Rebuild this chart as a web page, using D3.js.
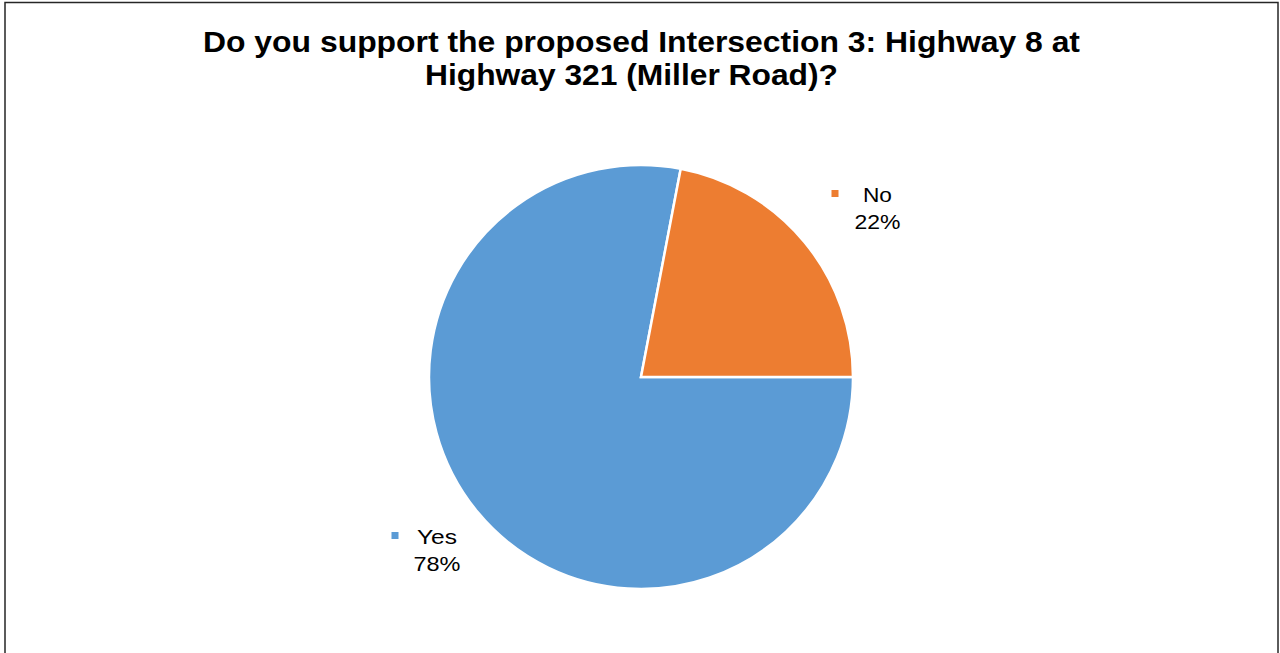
<!DOCTYPE html>
<html>
<head>
<meta charset="utf-8">
<script src="https://cdn.jsdelivr.net/npm/d3@7"></script>
<style>
  html, body { margin: 0; padding: 0; background: #fff; }
  svg { display: block; }
</style>
</head>
<body>
<svg id="chart" width="1280" height="653"></svg>
<script>
// Survey responses
const categories = ["Yes", "No"];
const percents = [78, 22];
const colors = ["#5B9BD5", "#ED7D31"];
const titleLines = [
  "Do you support the proposed Intersection 3: Highway 8 at",
  "Highway 321 (Miller Road)?"
];

const svg = d3.select("#chart");

// chart frame
svg.append("rect")
  .attr("x", 5).attr("y", 2.5)
  .attr("width", 1273).attr("height", 700)
  .attr("fill", "#fff")
  .attr("stroke", "#262626")
  .attr("stroke-width", 1.5);

// title, two centred lines
const title = svg.append("g")
  .attr("font-family", "'Liberation Sans', Arial, sans-serif")
  .attr("font-weight", "bold")
  .attr("font-size", 29)
  .attr("fill", "#000")
  .attr("text-anchor", "middle");
const titleLayout = [
  { x: 641.5, y: 52, w: 877 },
  { x: 631.5, y: 85, w: 413 }
];
titleLines.forEach((t, i) => {
  title.append("text")
    .attr("x", titleLayout[i].x).attr("y", titleLayout[i].y)
    .attr("textLength", titleLayout[i].w)
    .attr("lengthAdjust", "spacingAndGlyphs")
    .text(t);
});

// pie
const cx = 641, cy = 377, r = 212;
const data = categories.map((c, i) => ({ cat: c, value: percents[i], color: colors[i] }));

const pie = d3.pie()
  .value(d => d.value)
  .sort(null)
  .startAngle(Math.PI / 2)
  .endAngle(Math.PI / 2 + 2 * Math.PI);

const arc = d3.arc().innerRadius(0).outerRadius(r);
const arcs = pie(data);

const g = svg.append("g").attr("transform", `translate(${cx},${cy})`);
g.selectAll("path")
  .data(arcs)
  .join("path")
  .attr("d", arc)
  .attr("fill", d => d.data.color)
  .attr("stroke", "#fff")
  .attr("stroke-width", 2.5)
  .attr("stroke-linejoin", "miter");

// data labels with legend keys
const labelPos = {
  Yes: { x: 437, y: 544, kx: 395, w1: 40, w2: 47 },
  No: { x: 877.5, y: 202, kx: 835, w1: 29, w2: 46 }
};
const labels = svg.append("g")
  .attr("font-family", "'Liberation Sans', Arial, sans-serif")
  .attr("font-size", 21)
  .attr("fill", "#000")
  .attr("text-anchor", "middle");

arcs.forEach(a => {
  const p = labelPos[a.data.cat];
  labels.append("rect")
    .attr("x", p.kx - 3.5).attr("y", p.y - 12)
    .attr("width", 7).attr("height", 7)
    .attr("fill", a.data.color);
  labels.append("text").attr("x", p.x).attr("y", p.y)
    .attr("textLength", p.w1).attr("lengthAdjust", "spacingAndGlyphs")
    .text(a.data.cat);
  labels.append("text").attr("x", p.x).attr("y", p.y + 27)
    .attr("textLength", p.w2).attr("lengthAdjust", "spacingAndGlyphs")
    .text(a.data.value + "%");
});
</script>
</body>
</html>
